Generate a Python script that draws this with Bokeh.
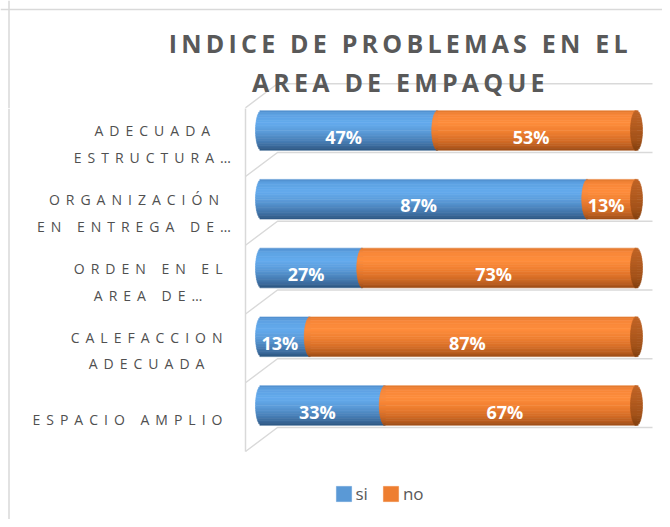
import numpy as np
from bokeh.plotting import figure
from bokeh.models import Range1d, Span, Legend, LegendItem, InlineStyleSheet, ColumnDataSource
from bokeh.layouts import column, row
from bokeh.embed import file_html
from bokeh.resources import INLINE
from bokeh.core.properties import value

# ---------------- data (Excel order: first category at the bottom) ----------------
categories = ["ESPACIO AMPLIO", "CALEFACCION\nADECUADA", "ORDEN EN EL\nAREA DE…",
              "ORGANIZACIÓN\nEN ENTREGA DE…", "ADECUADA\nESTRUCTURA…"]
si_pct = [33, 13, 27, 87, 47]
no_pct = [67, 87, 73, 13, 53]
series_names = ["si", "no"]
title_lines = ["INDICE DE PROBLEMAS EN EL", "AREA DE EMPAQUE"]

# ---------------- layout / style constants ----------------
FONT = "Open Sans"
GRAY = "#595959"
WALL = "#D9D9D9"
W, H = 662, 519
TITLE_H = 108
LEFT_W = 243
MAIN_W = W - LEFT_W
BODY_H = H - TITLE_H
X0_PAGE, PX_PER_PCT = 261.0, 3.75      # x of 0 %, pixels per percent
Y0_PAGE, PX_PER_CAT = 405.0, 68.75     # y of first category, pixels per category
SP_TITLE, SP_LABEL = 4.2, 6.0          # letter spacing (px)
FS_TITLE, FS_LABEL, FS_DATA, FS_LEG = 25, 14, 18, 17


def px2pct(x):
    return (x - X0_PAGE) / PX_PER_PCT


def py2cat(y):
    return (Y0_PAGE - y) / PX_PER_CAT


def hex2rgb(h):
    h = h.lstrip("#")
    return [int(h[k:k + 2], 16) for k in (0, 2, 4)]


def ramp(stops, t):
    ts = [s[0] for s in stops]
    cols = np.array([hex2rgb(s[1]) for s in stops], float)
    rgb = [np.interp(t, ts, cols[:, k]) for k in range(3)]
    return "#%02x%02x%02x" % tuple(int(round(v)) for v in rgb)


BLUE_STOPS = [(-1, "#2b5580"), (-0.85, "#3a6898"), (-0.5, "#4a82ba"), (-0.1, "#5b9bd8"),
              (0.35, "#64abee"), (0.8, "#5ea2e3"), (1, "#4f8ccb")]
ORANGE_STOPS = [(-1, "#9a4c16"), (-0.85, "#b75c1e"), (-0.5, "#d86f28"), (-0.1, "#ef7f31"),
                (0.35, "#fe8d3c"), (0.8, "#f7873a"), (1, "#e0762c")]
CAP_STOPS = [(-1, "#83410f"), (-0.5, "#a3521a"), (0.3, "#b45d21"), (1, "#c06427")]

# Open Sans regular advance widths (em) used to centre the wrapped category labels
W_REG = {'A': .633, 'B': .648, 'C': .631, 'D': .729, 'E': .556, 'F': .516, 'G': .728,
         'H': .738, 'I': .279, 'L': .519, 'M': .903, 'N': .754, 'O': .779, 'Ó': .779,
         'P': .602, 'R': .618, 'S': .549, 'T': .553, 'U': .728, 'Z': .571, ' ': .26, '…': .83}


def text_w(s, fs, sp):
    return fs * sum(W_REG.get(ch, .6) for ch in s) + sp * (len(s) - 1)


def make_fig(w, h, xr, yr, spacing=None):
    p = figure(width=w, height=h, x_range=xr, y_range=yr, output_backend="svg",
               toolbar_location=None, x_axis_location=None, y_axis_location=None,
               min_border=0, outline_line_color=None, background_fill_color="white",
               border_fill_color="white")
    p.grid.visible = False
    if spacing:
        p.stylesheets = [InlineStyleSheet(css=":host { letter-spacing: %spx; }" % spacing)]
    return p


n_cat = len(categories)
y_shared = Range1d(py2cat(H), py2cat(TITLE_H))

# ---------------- main plot (bars) ----------------
pm = make_fig(MAIN_W, BODY_H, Range1d(px2pct(LEFT_W), px2pct(W)), y_shared)

GL_OFF = -22 / PX_PER_CAT          # back-wall gridline below each bar
DEPTH_Y = 24 / PX_PER_CAT
WALL_X = px2pct(245)
BACK_X0, BACK_X1 = px2pct(277), px2pct(652)

xs, ys = [], []
for k in range(n_cat):
    yk = k + GL_OFF
    xs.append([WALL_X, BACK_X0, BACK_X1])
    ys.append([yk - DEPTH_Y, yk, yk])
xs.append([WALL_X, WALL_X])
ys.append([n_cat + GL_OFF - DEPTH_Y, GL_OFF - DEPTH_Y])
pm.multi_line(xs, ys, line_color=WALL, line_width=1.5)

N = 24
a_pct = 6 / PX_PER_PCT
bar_h = 39.5 / PX_PER_CAT
strip_h = bar_h / N * 1.15
blue = dict(y=[], left=[], right=[], c=[])
orng = dict(y=[], left=[], right=[], c=[])
cap = dict(y=[], left=[], right=[], c=[])
for i in range(n_cat):
    for j in range(N):
        t = 1 - (2 * j + 1) / N
        y = i + t * bar_h / 2
        e = a_pct * np.sqrt(max(0.0, 1 - t * t))
        tot = si_pct[i] + no_pct[i]
        blue["y"].append(y); blue["left"].append(-e); blue["right"].append(si_pct[i])
        blue["c"].append(ramp(BLUE_STOPS, t))
        orng["y"].append(y); orng["left"].append(si_pct[i] - e)
        orng["right"].append(tot); orng["c"].append(ramp(ORANGE_STOPS, t))
        cap["y"].append(y); cap["left"].append(tot - e); cap["right"].append(tot + e)
        cap["c"].append(ramp(CAP_STOPS, t))

bar_r = []
for d in (blue, orng, cap):
    bar_r.append(pm.hbar(y="y", left="left", right="right", height=strip_h, fill_color="c",
                         line_color="c", line_width=0.5, source=ColumnDataSource(d)))

lab_x, lab_y, lab_t = [], [], []
for i in range(n_cat):
    lab_x += [si_pct[i] / 2 - a_pct, si_pct[i] + no_pct[i] / 2 - a_pct]
    lab_y += [i - 6 / PX_PER_CAT] * 2
    lab_t += ["%d%%" % si_pct[i], "%d%%" % no_pct[i]]
pm.text(x=lab_x, y=lab_y, text=lab_t, text_align="center", text_baseline="middle",
        text_font=value(FONT), text_font_style="bold", text_font_size="%dpx" % FS_DATA,
        text_color="white")

LEG_IDX = 13   # strip whose colour is the flat series colour
legend = Legend(items=[LegendItem(label=s, renderers=[r], index=LEG_IDX)
                       for s, r in zip(series_names, bar_r[:2])],
                orientation="horizontal", location=(90.5, 14.5), glyph_width=19, glyph_height=19,
                label_standoff=3, label_width=4, spacing=13, padding=0, margin=0,
                border_line_color=None, background_fill_alpha=0, label_text_font=FONT,
                label_text_font_size="%dpx" % FS_LEG, label_text_color=GRAY, label_height=14)
pm.add_layout(legend)

# ---------------- category labels (letter-spaced) ----------------
pl = make_fig(LEFT_W, BODY_H, Range1d(0, LEFT_W), y_shared, spacing=SP_LABEL)
pl.add_layout(Span(location=8.5, dimension="height", line_color=WALL, line_width=1.5))
R_EDGE = 222
LINE_STEP = 26.7
BLOCK_DROP = 13.7
cx_l, cy_l, ct_l = [], [], []
for i, cat in enumerate(categories):
    lines = cat.split("\n")
    wmax = max(text_w(ln.replace("…", ""), FS_LABEL, SP_LABEL) for ln in lines)
    tc = R_EDGE - wmax / 2
    for j, ln in enumerate(lines):
        cap_c = BLOCK_DROP + (j - (len(lines) - 1) / 2) * LINE_STEP
        cx_l.append(tc - SP_LABEL * (len(ln) - 1) / 2)
        cy_l.append(i - cap_c / PX_PER_CAT)
        ct_l.append(ln)
pl.text(x=cx_l, y=cy_l, text=ct_l, text_align="center", text_baseline="middle",
        text_font=value(FONT), text_font_size="%dpx" % FS_LABEL, text_color="#505050")

# ---------------- title strip ----------------
pt = make_fig(W, TITLE_H, Range1d(px2pct(0), px2pct(W)),
              Range1d(py2cat(TITLE_H), py2cat(0)), spacing=SP_TITLE)
pt.add_layout(Span(location=px2pct(8.5), dimension="height", line_color=WALL, line_width=1.5))
pt.add_layout(Span(location=py2cat(9), dimension="width", line_color=WALL, line_width=1.5))
ytop = n_cat + GL_OFF
pt.line([WALL_X, BACK_X0, BACK_X1], [ytop - DEPTH_Y, ytop, ytop], line_color=WALL, line_width=1.5)
TITLE_CX = 397.7
title_mid = [42, 81.5]
pt.text(x=[px2pct(TITLE_CX - SP_TITLE * (len(s) - 1) / 2) for s in title_lines],
        y=[py2cat(m) for m in title_mid], text=title_lines, text_align="center",
        text_baseline="middle", text_font=value(FONT), text_font_style="bold",
        text_font_size="%dpx" % FS_TITLE, text_color=GRAY)

layout = column(pt, row(pl, pm))
open("out.html", "w").write(file_html(layout, INLINE))
